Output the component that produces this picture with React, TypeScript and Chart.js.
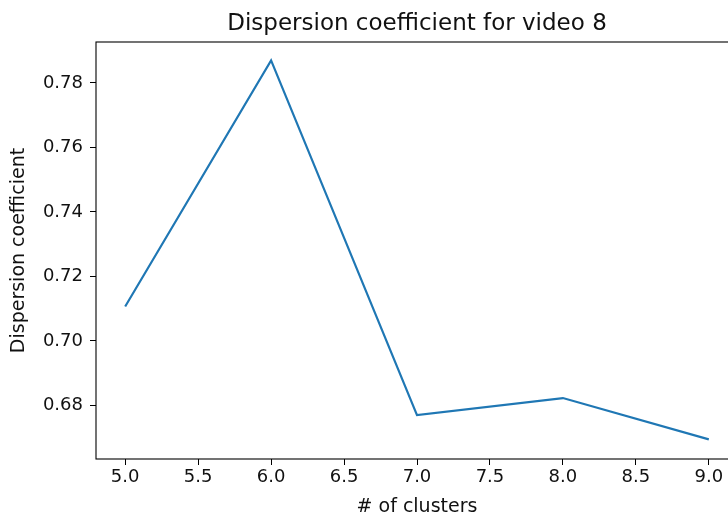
import React, { useEffect, useRef } from "react";
import { Chart, registerables } from "chart.js";

Chart.register(...registerables);

const chartTitle = "Dispersion coefficient for video 8";
const xLabel = "# of clusters";
const yLabel = "Dispersion coefficient";
const clusters = [5, 6, 7, 8, 9];
const dispersion = [0.7107, 0.787, 0.677, 0.6823, 0.6695];
const xTicks = [5.0, 5.5, 6.0, 6.5, 7.0, 7.5, 8.0, 8.5, 9.0];
const yTicks = [0.68, 0.7, 0.72, 0.74, 0.76, 0.78];
const xRange = [4.8, 9.2];
const yRange = [0.6634, 0.7927];

const FONT = '"DejaVu Sans", sans-serif';
const TEXT = "#111111";

const framePlugin = {
  id: "frameAndTitle",
  afterDraw(chart: any) {
    const { ctx, chartArea: a } = chart;
    ctx.save();
    ctx.strokeStyle = "#000000";
    ctx.lineWidth = 1.1;
    ctx.strokeRect(a.left, a.top, a.right - a.left, a.bottom - a.top);
    ctx.fillStyle = TEXT;
    ctx.font = `23px ${FONT}`;
    ctx.textAlign = "center";
    ctx.textBaseline = "alphabetic";
    ctx.fillText(chartTitle, (a.left + a.right) / 2, a.top - 12);
    ctx.restore();
  },
};

export default function App() {
  const ref = useRef<HTMLCanvasElement | null>(null);

  useEffect(() => {
    if (!ref.current) return;
    const points = clusters.map((c, i) => ({ x: c, y: dispersion[i] }));
    const chart = new Chart(ref.current, {
      type: "line",
      data: {
        datasets: [
          {
            data: points,
            borderColor: "#1f77b4",
            borderWidth: 2.2,
            pointRadius: 0,
            tension: 0,
            fill: false,
          },
        ],
      },
      options: {
        animation: false,
        responsive: false,
        layout: { padding: { top: 42, right: 2, left: 0, bottom: 0 } },
        plugins: {
          legend: { display: false },
          title: { display: false },
          tooltip: { enabled: false },
        },
        scales: {
          x: {
            type: "linear",
            min: xRange[0],
            max: xRange[1],
            afterBuildTicks: (scale: any) => {
              scale.ticks = xTicks.map((v) => ({ value: v }));
            },
            afterFit: (scale: any) => {
              scale.height = 59;
            },
            border: { display: false },
            grid: {
              drawOnChartArea: false,
              drawTicks: true,
              tickLength: 6,
              tickColor: "#000000",
              tickWidth: 1,
            },
            ticks: {
              padding: 2,
              color: TEXT,
              font: { family: FONT, size: 18 },
              maxRotation: 0,
              autoSkip: false,
              callback: (v: any) => Number(v).toFixed(1),
            },
            title: {
              display: true,
              text: xLabel,
              color: TEXT,
              font: { family: FONT, size: 19, lineHeight: 1.1 },
              padding: { top: 0, bottom: 0 },
            },
          },
          y: {
            type: "linear",
            min: yRange[0],
            max: yRange[1],
            afterBuildTicks: (scale: any) => {
              scale.ticks = yTicks.map((v) => ({ value: v }));
            },
            afterFit: (scale: any) => {
              scale.width = 96;
            },
            border: { display: false },
            grid: {
              drawOnChartArea: false,
              drawTicks: true,
              tickLength: 6,
              tickColor: "#000000",
              tickWidth: 1,
            },
            ticks: {
              padding: 7,
              color: TEXT,
              font: { family: FONT, size: 18 },
              autoSkip: false,
              callback: (v: any) => Number(v).toFixed(2),
            },
            title: {
              display: true,
              text: yLabel,
              color: TEXT,
              font: { family: FONT, size: 19 },
              padding: { top: 8, bottom: 0 },
            },
          },
        },
      },
      plugins: [framePlugin],
    });
    return () => chart.destroy();
  }, []);

  return (
    <div
      style={{
        position: "fixed",
        left: 0,
        top: 0,
        width: 728,
        height: 518,
        overflow: "hidden",
        background: "#ffffff",
      }}
    >
      <canvas ref={ref} width={740} height={518} style={{ display: "block" }} />
    </div>
  );
}
